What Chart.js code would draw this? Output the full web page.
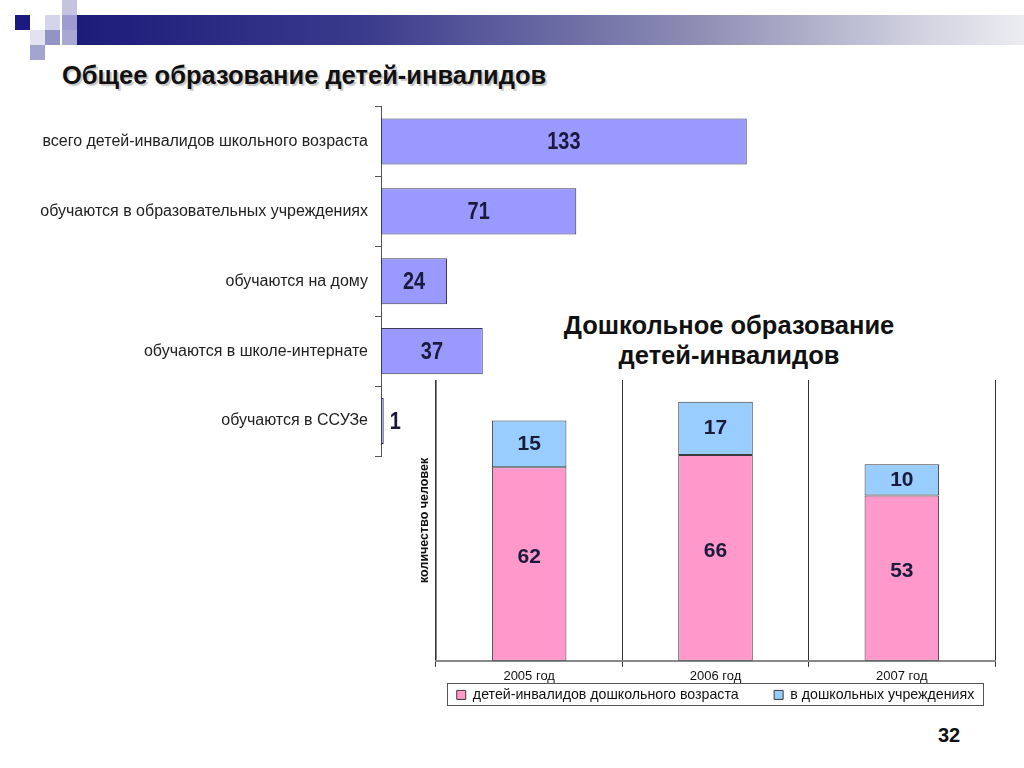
<!DOCTYPE html>
<html>
<head>
<meta charset="utf-8">
<script src="https://cdn.jsdelivr.net/npm/chart.js@4/dist/chart.umd.min.js"></script>
<style>
  html, body { margin: 0; padding: 0; background: #fff; }
  body { width: 1024px; height: 768px; position: relative; overflow: hidden; font-family: 'Liberation Sans', Arial, sans-serif; }
  .sq { position: absolute; width: 15px; height: 15px; }
  #band { position: absolute; left: 77px; top: 15px; width: 947px; height: 30px;
          background: linear-gradient(to right, #1c1c7a 0%, #3a3a8c 30%, #8c8cb4 65%, #d4d4e2 90%, #ececf2 100%); }
  #title1 { position: absolute; left: 62px; top: 61px; font-size: 25.5px; font-weight: bold; color: #111;
            text-shadow: 2px 2px 1px rgba(0,0,0,0.22); white-space: nowrap; }
  #title2 { position: absolute; left: 529px; top: 310px; width: 400px; text-align: center; font-size: 25.5px;
            font-weight: bold; line-height: 30px; color: #111; white-space: nowrap; }
  #page { position: absolute; left: 938px; top: 724px; font-size: 20px; font-weight: bold; color: #111; }
  #c1wrap { position: absolute; left: 0; top: 90px; width: 800px; height: 384px; }
  #c2wrap { position: absolute; left: 400px; top: 370px; width: 624px; height: 348px; }
</style>
</head>
<body>
<div class="sq" style="left:62px;top:0;background:#c4c4e0"></div>
<div class="sq" style="left:15px;top:15px;background:#1a1a80"></div>
<div class="sq" style="left:45px;top:15px;background:#d4d4ea"></div>
<div class="sq" style="left:62px;top:15px;background:#9c9cd0"></div>
<div class="sq" style="left:30px;top:30px;background:#e2e2f0"></div>
<div class="sq" style="left:45px;top:30px;background:#9494c4"></div>
<div class="sq" style="left:62px;top:30px;background:#a8a8d4"></div>
<div class="sq" style="left:30px;top:45px;background:#a4a4d0"></div>
<div id="band"></div>
<div id="title1">Общее образование детей-инвалидов</div>
<div id="title2">Дошкольное образование<br>детей-инвалидов</div>
<div id="page">32</div>
<div id="c1wrap"><canvas id="c1"></canvas></div>
<div id="c2wrap"><canvas id="c2"></canvas></div>
<script>
// ---- data: general education ----
const schoolCategories = [
  'всего детей-инвалидов школьного возраста',
  'обучаются в образовательных учреждениях',
  'обучаются на дому',
  'обучаются в школе-интернате',
  'обучаются в ССУЗе'
];
const schoolValues = [133, 71, 24, 37, 1];

// ---- data: preschool education ----
const preschoolYears = ['2005 год', '2006 год', '2007 год'];
const preschoolAge = [62, 66, 53];
const preschoolInstitutions = [15, 17, 10];
const preschoolSeries = ['детей-инвалидов дошкольного возраста', 'в дошкольных учреждениях'];

const valueLabels1 = {
  id: 'valueLabels1',
  afterDatasetsDraw(chart) {
    const ctx = chart.ctx;
    const meta = chart.getDatasetMeta(0);
    meta.data.forEach((bar, i) => {
      const v = String(chart.data.datasets[0].data[i]);
      const w = bar.x - bar.base;
      ctx.save();
      ctx.font = 'bold 24px "Liberation Sans", Arial';
      ctx.fillStyle = '#1a1a3a';
      ctx.textBaseline = 'middle';
      if (w < 30) { ctx.translate(bar.x + 6, bar.y + 1); ctx.textAlign = 'left'; }
      else { ctx.translate((bar.x + bar.base) / 2, bar.y + 1); ctx.textAlign = 'center'; }
      ctx.scale(0.83, 1);
      ctx.fillText(v, 0, 0);
      ctx.restore();
    });
  }
};

new Chart(document.getElementById('c1'), {
  type: 'bar',
  data: {
    labels: schoolCategories,
    datasets: [{
      data: schoolValues,
      backgroundColor: '#9999ff',
      borderColor: '#3a3a5a',
      borderWidth: 1,
      borderSkipped: false,
      categoryPercentage: 1,
      barPercentage: 0.66
    }]
  },
  options: {
    indexAxis: 'y',
    responsive: true,
    maintainAspectRatio: false,
    animation: false,
    layout: { padding: { left: 0, right: 34, top: 12, bottom: 18 } },
    plugins: { legend: { display: false }, tooltip: { enabled: false } },
    scales: {
      x: { display: false, min: 0, max: 140 },
      y: {
        afterFit(s) { s.width = 381; },
        grid: { drawOnChartArea: false, tickLength: 6, color: '#555', offset: true },
        border: { color: '#555', width: 1 },
        ticks: { color: '#222', padding: 7, font: { family: '"Liberation Sans", Arial', size: 16 } }
      }
    }
  },
  plugins: [valueLabels1]
});

const valueLabels2 = {
  id: 'valueLabels2',
  afterDatasetsDraw(chart) {
    const ctx = chart.ctx;
    ctx.save();
    ctx.font = 'bold 21px "Liberation Sans", Arial';
    ctx.fillStyle = '#1a1a3a';
    ctx.textAlign = 'center';
    ctx.textBaseline = 'middle';
    chart.data.datasets.forEach((ds, di) => {
      chart.getDatasetMeta(di).data.forEach((bar, i) => {
        const off = di === 0 ? -7 : 0;
        ctx.fillText(String(ds.data[i]), bar.x, (bar.y + bar.base) / 2 + off);
      });
    });
    ctx.restore();
  },
  afterDraw(chart) {
    const hb = chart.legend && chart.legend.legendHitBoxes;
    if (!hb || !hb.length) return;
    const ctx = chart.ctx;
    let minX = Infinity, maxX = -Infinity, minY = Infinity, maxY = -Infinity;
    hb.forEach(b => { minX = Math.min(minX, b.left); maxX = Math.max(maxX, b.left + b.width);
                      minY = Math.min(minY, b.top); maxY = Math.max(maxY, b.top + b.height); });
    ctx.save();
    ctx.strokeStyle = '#555';
    ctx.lineWidth = 1;
    ctx.strokeRect(Math.round(minX - 10) + 0.5, Math.round(minY - 5) + 0.5, Math.round(maxX - minX + 18), Math.round(maxY - minY + 8));
    ctx.restore();
  }
};

new Chart(document.getElementById('c2'), {
  type: 'bar',
  data: {
    labels: preschoolYears,
    datasets: [
      { label: preschoolSeries[0], data: preschoolAge, backgroundColor: '#ff99cc', borderColor: '#3a3a3a', borderWidth: 1, borderSkipped: false, categoryPercentage: 1, barPercentage: 0.4 },
      { label: preschoolSeries[1], data: preschoolInstitutions, backgroundColor: '#99ccff', borderColor: '#3a3a3a', borderWidth: 1, borderSkipped: false, categoryPercentage: 1, barPercentage: 0.4 }
    ]
  },
  options: {
    responsive: true,
    maintainAspectRatio: false,
    animation: false,
    layout: { padding: { left: 0, right: 29, top: 10, bottom: 6 } },
    plugins: {
      tooltip: { enabled: false },
      legend: {
        position: 'bottom',
        fullSize: false,
        labels: {
          boxWidth: 9, boxHeight: 9, padding: 4, color: '#111',
          font: { family: '"Liberation Sans", Arial', size: 14.2 },
          generateLabels(chart) {
            const items = Chart.defaults.plugins.legend.labels.generateLabels(chart);
            if (items.length) items[0].text = items[0].text + '\u00a0\u00a0\u00a0\u00a0\u00a0\u00a0\u00a0\u00a0';
            return items;
          }
        }
      }
    },
    scales: {
      x: {
        stacked: true,
        afterFit(s) { s.height = 23; },
        grid: { offset: true, drawOnChartArea: true, tickLength: 6, color: '#333' },
        border: { color: '#888', width: 2 },
        ticks: { color: '#111', padding: 2, font: { family: '"Liberation Sans", Arial', size: 13 } }
      },
      y: {
        stacked: true,
        min: 0, max: 90,
        afterFit(s) { s.width = 36; },
        grid: { display: false },
        border: { display: true, color: '#888', width: 1 },
        ticks: { display: false },
        title: { display: true, text: 'количество человек', color: '#111', padding: { top: 17, bottom: 0 },
                 font: { family: '"Liberation Sans", Arial', size: 12.5, weight: 'bold' } }
      }
    }
  },
  plugins: [valueLabels2]
});
</script>
</body>
</html>
